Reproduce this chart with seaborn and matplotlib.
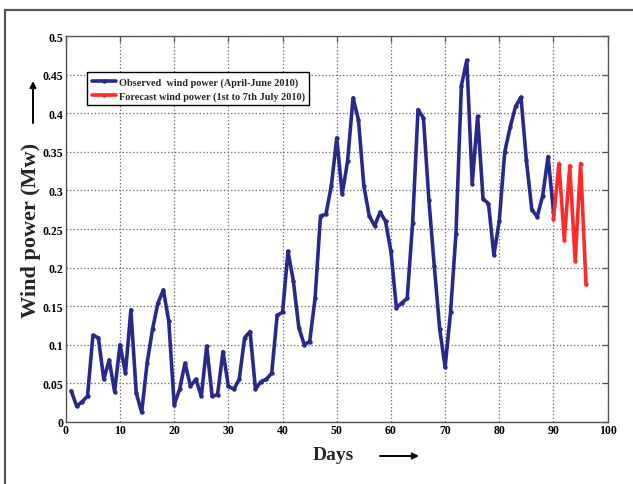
import numpy as np
import pandas as pd
import matplotlib
matplotlib.use("Agg")
import matplotlib.pyplot as plt
from matplotlib.lines import Line2D
import seaborn as sns

# ---- data ----
obs_days = list(range(1, 91))
obs_power = [0.040, 0.020, 0.026, 0.033, 0.112, 0.109, 0.055, 0.080, 0.039, 0.100,
             0.063, 0.145, 0.037, 0.012, 0.076, 0.120, 0.154, 0.171, 0.130, 0.022,
             0.042, 0.076, 0.046, 0.055, 0.033, 0.098, 0.033, 0.035, 0.091, 0.046,
             0.042, 0.055, 0.109, 0.117, 0.042, 0.052, 0.055, 0.063, 0.138, 0.142,
             0.221, 0.182, 0.122, 0.100, 0.104, 0.160, 0.267, 0.269, 0.306, 0.368,
             0.295, 0.338, 0.420, 0.392, 0.306, 0.267, 0.254, 0.272, 0.260, 0.221,
             0.148, 0.154, 0.160, 0.258, 0.405, 0.394, 0.288, 0.202, 0.120, 0.071,
             0.142, 0.244, 0.436, 0.469, 0.309, 0.396, 0.289, 0.283, 0.216, 0.261,
             0.350, 0.382, 0.409, 0.421, 0.339, 0.275, 0.266, 0.293, 0.344, 0.272]
fc_days = [90, 91, 92, 93, 94, 95, 96]
fc_power = [0.263, 0.335, 0.236, 0.332, 0.209, 0.335, 0.178]

obs_label = "Observed  wind power (April-June 2010)"
fc_label = "Forecast wind power (1st to 7th July 2010)"
x_ticks = [0, 10, 20, 30, 40, 50, 60, 70, 80, 90, 100]
x_ticklabels = ["0", "10", "20", "30", "40", "50", "60", "70", "80", "90", "100"]
y_ticks = [0, 0.05, 0.1, 0.15, 0.2, 0.25, 0.3, 0.35, 0.4, 0.45, 0.5]
y_ticklabels = ["0", "0.05", "0.1", "0.15", "0.2", "0.25", "0.3", "0.35", "0.4", "0.45", "0.5"]

obs_df = pd.DataFrame({"day": obs_days, "power": obs_power})
fc_df = pd.DataFrame({"day": fc_days, "power": fc_power})

sns.set_theme(style="white")
plt.rcParams["font.family"] = ["Liberation Serif", "DejaVu Serif", "DejaVu Sans"]
plt.rcParams["font.weight"] = "bold"

fig = plt.figure(figsize=(6.33, 4.85), dpi=100)
ax = fig.add_axes([0.104, 0.1285, 0.856, 0.7945])

blue = "#29298c"
red = "#ff2a2a"
sns.lineplot(data=obs_df, x="day", y="power", ax=ax, color=blue, lw=2.6,
             marker="o", markersize=3.2, markeredgewidth=0, label=obs_label)
sns.lineplot(data=fc_df, x="day", y="power", ax=ax, color=red, lw=2.6,
             marker="o", markersize=3.2, markeredgewidth=0, label=fc_label)

ax.set_xlim(0, 100)
ax.set_ylim(0, 0.5)
ax.set_xticks(x_ticks)
ax.set_xticklabels(x_ticklabels)
ax.set_yticks(y_ticks)
ax.set_yticklabels(y_ticklabels)
ax.set_xlabel("")
ax.set_ylabel("")
ax.grid(True, linestyle=(0, (1.2, 1.6)), color="#7a7a7a", linewidth=0.9)
ax.tick_params(direction="in", length=4, width=0.9, color="#555555",
               top=True, right=True, labelsize=8.5, pad=2, labelcolor="black")
for lab in ax.get_xticklabels() + ax.get_yticklabels():
    lab.set_fontweight("bold")
for s in ax.spines.values():
    s.set_color("#555555")
    s.set_linewidth(1.0)
    s.set_visible(True)

leg = ax.legend(loc="upper left", bbox_to_anchor=(0.0397, 0.9066), borderaxespad=0,
                prop={"family": "Liberation Serif", "weight": "bold", "size": 7.4},
                frameon=True, fancybox=False, framealpha=1, edgecolor="black",
                handlelength=2.3, handletextpad=0.3, borderpad=0.45, labelspacing=0.45)
leg.get_frame().set_linewidth(1.0)

# axis labels
fig.text(333 / 633, 1 - 456 / 485, "Days", ha="center", va="center",
         fontsize=14, fontweight="bold", family="Liberation Serif")
fig.text(31 / 633, 1 - 230 / 485, "Wind power (Mw)", ha="center", va="center",
         rotation=90, fontsize=16, fontweight="bold", family="Liberation Serif")

# label arrows (figure pixel coordinates, origin bottom-left)
arrow_kw = dict(arrowstyle="-|>", lw=1.4, color="black", mutation_scale=9,
                shrinkA=0, shrinkB=0)
fig.add_artist(matplotlib.patches.FancyArrowPatch((380 / 633, 1 - 457 / 485), (419 / 633, 1 - 457 / 485),
                                                  transform=fig.transFigure, **arrow_kw))
fig.add_artist(matplotlib.patches.FancyArrowPatch((33 / 633, 1 - 124 / 485), (33 / 633, 1 - 82 / 485),
                                                  transform=fig.transFigure, **arrow_kw))

# outer frame (top and left)
fig.add_artist(Line2D([5 / 633, 5 / 633], [0, 1 - 10.5 / 485], transform=fig.transFigure,
                      color="#555555", lw=1.6))
fig.add_artist(Line2D([5 / 633, 1], [1 - 10.5 / 485, 1 - 10.5 / 485], transform=fig.transFigure,
                      color="#555555", lw=1.6))

fig.savefig("out.png", dpi=100)
